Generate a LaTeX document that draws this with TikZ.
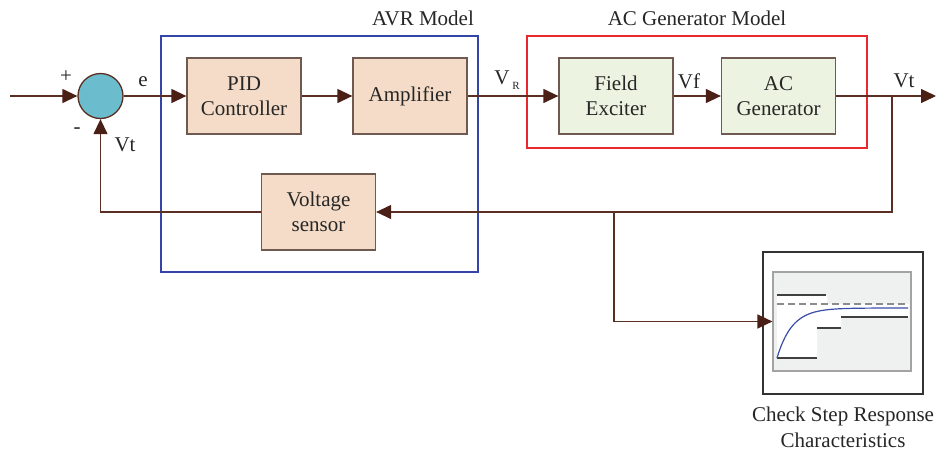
\documentclass[tikz,border=0pt]{standalone}
\usepackage{fontspec}
\setmainfont{Liberation Serif}
\usetikzlibrary{arrows.meta}
\definecolor{wire}{HTML}{5A2E22}
\definecolor{tip}{HTML}{4A2016}
\definecolor{peach}{HTML}{F5DCC8}
\definecolor{lgreen}{HTML}{ECF3E1}
\definecolor{boxedge}{HTML}{6E5A50}
\definecolor{sumfill}{HTML}{6BBCCC}
\definecolor{avrblue}{HTML}{3445A8}
\definecolor{acred}{HTML}{E8282D}
\definecolor{plotbg}{HTML}{EFF1F0}
\definecolor{plotedge}{HTML}{A3A3A3}
\definecolor{curve}{HTML}{3A4DA8}
\tikzset{
  x=1pt,y=-1pt,
  every node/.style={font=\fontsize{21}{25}\selectfont, text=black!85},
  block/.style={draw=boxedge, line width=1.3pt, minimum width=114pt, minimum height=76pt, align=center, inner sep=0pt},
  avrblock/.style={block, fill=peach},
  genblock/.style={block, fill=lgreen},
  wireline/.style={draw=wire, line width=1.3pt},
  arr/.style={wireline, -{Triangle[length=15pt,width=14pt,fill=tip,color=tip]}},
  lbl/.style={inner sep=0pt},
}
\begin{document}
\begin{tikzpicture}
\useasboundingbox (0,0) rectangle (936,453);
% group frames
\node[draw=avrblue, line width=1.2pt, minimum width=317pt, minimum height=236pt, inner sep=0pt] (avr) at (319.5,154) {};
\node[draw=acred, line width=1.2pt, minimum width=340pt, minimum height=112pt, inner sep=0pt] (acg) at (697,92) {};
\node[lbl] (avrlbl) at (423,18) {AVR Model};
\node[lbl] (acglbl) at (697,18) {AC Generator Model};
% blocks
\node[circle, draw=wire, line width=1.3pt, fill=sumfill, minimum size=45pt, inner sep=0pt] (sum) at (100.5,96) {};
\node[avrblock] (pid) at (244,96) {PID\\Controller};
\node[avrblock] (amp) at (410,96) {Amplifier};
\node[genblock] (fe) at (616,96) {Field\\Exciter};
\node[genblock] (gen) at (778.5,96) {AC\\Generator};
\node[avrblock] (vs) at (318.5,212) {Voltage\\sensor};
% step response scope
\node[draw=black!80, line width=1.3pt, minimum width=160pt, minimum height=142pt, inner sep=0pt] (scope) at (843,323) {};
\node[draw=plotedge, fill=plotbg, line width=1.2pt, minimum width=138pt, minimum height=99pt, inner sep=0pt] (plot) at (842,321.5) {};
\fill[white] (777,295) -- (827,295) -- (827,304) -- (909,304) -- (909,317) -- (841,317) -- (841,328) -- (817,328) -- (817,358) -- (777,358) -- cycle;
\draw[black!75, line width=1.3pt] (777,295) -- (826,295);
\draw[black!45, line width=1.2pt, dash pattern=on 7pt off 4pt] (777,304) -- (908,304);
\draw[black!75, line width=1.3pt] (841,317) -- (908,317);
\draw[black!75, line width=1.3pt] (817,328) -- (841,328);
\draw[black!75, line width=1.3pt] (777,358) -- (817,358);
\draw[curve, line width=1.2pt, domain=0:131, samples=80, smooth] plot ({777+\x},{358-50*(1-exp(-\x/15))});
\node[lbl, align=center, font=\fontsize{21}{26}\selectfont] (cap) at (843,427) {Check Step Response\\Characteristics};
% coordinates
\coordinate (in) at (10,96);
\coordinate (out) at (936,96);
\coordinate (br1) at (892,96);
\coordinate (br1d) at (892,212);
\coordinate (fbl) at (100.5,212);
\coordinate (br2) at (614,212);
\coordinate (br2d) at (614,321.5);
% connectors
\draw[arr] (in) -- (sum.west);
\draw[arr] (sum.east) -- (pid.west);
\draw[arr] (pid.east) -- (amp.west);
\draw[arr] (amp.east) -- (fe.west);
\draw[arr] (fe.east) -- (gen.west);
\draw[arr] (gen.east) -- (out);
\draw[arr] (br1) -- (br1d) -- (vs.east);
\draw[arr] (vs.west) -- (fbl) -- (sum.south);
\draw[arr] (br2) -- (br2d) -- (plot.west);
% signal labels
\node[lbl] (plus) at (66,77) {+};
\node[lbl] (minus) at (77,131) {-};
\node[lbl] (e) at (143,82) {e};
\node[lbl] (vt1) at (125,145) {Vt};
\node[lbl] (vr) at (507,80) {V\raisebox{-0.5ex}{\fontsize{11}{12}\selectfont\hspace{3pt}R}};
\node[lbl] (vf) at (689,81) {Vf};
\node[lbl] (vt2) at (904,81) {Vt};
\end{tikzpicture}
\end{document}
